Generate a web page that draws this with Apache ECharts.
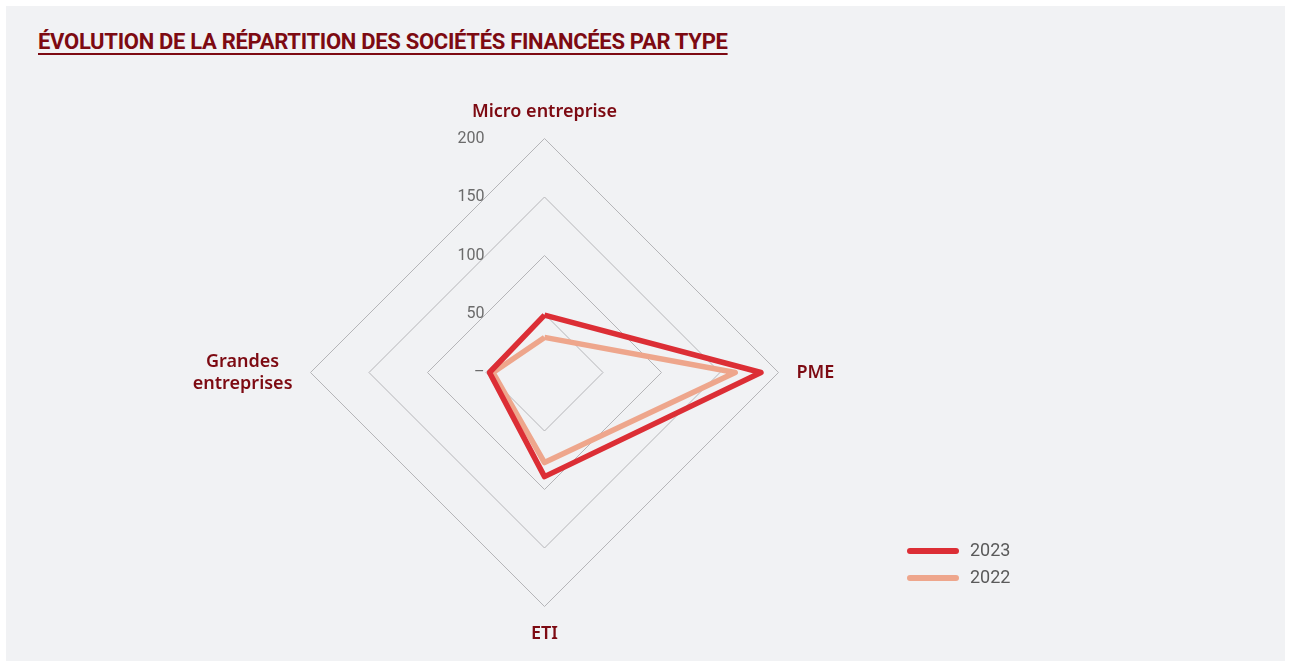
<!DOCTYPE html>
<html>
<head>
<meta charset="utf-8">
<script src="https://cdn.jsdelivr.net/npm/echarts@6/dist/echarts.min.js"></script>
<style>
  html, body { margin: 0; padding: 0; background: #fff; }
  .panel {
    position: absolute; left: 6px; top: 6px; width: 1279px; height: 655px;
    background: #f1f2f4;
  }
  .title {
    position: absolute; left: 38px; top: 29px;
    font-family: "Roboto", sans-serif; font-weight: 700; font-size: 22px;
    color: #7d0a12; text-decoration: underline; text-underline-offset: 4px;
    letter-spacing: -0.3px;
  }
  #chart { position: absolute; left: 0; top: 0; width: 1291px; height: 666px; }
</style>
</head>
<body>
<div class="panel"></div>
<div class="title">ÉVOLUTION DE LA RÉPARTITION DES SOCIÉTÉS FINANCÉES PAR TYPE</div>
<div id="chart"></div>
<script>
// indicators in drawing order (top, left, bottom, right)
const categories = ['Micro entreprise', 'Grandes entreprises', 'ETI', 'PME'];
const seriesNames = ['2023', '2022'];
const values2023 = [49, 47, 89, 185];
const values2022 = [30, 44, 77, 163];
const maxValue = 200;

const colorList = ['#dc2e35', '#eea68c'];
const nameColor = '#7d0a12';

let chart = echarts.init(document.getElementById('chart'));

let indicator = categories.map((name, i) => {
  let item = { name: name, max: maxValue, min: 0 };
  if (i === 0) {
    item.axisLabel = {
      show: true,
      color: '#6b6b6b',
      fontSize: 16,
      fontFamily: 'Roboto',
      margin: 60,
      formatter: function (v) { return v === 0 ? '–' : v; }
    };
  }
  return item;
});

let option = {
  legend: {
    orient: 'vertical',
    left: 902,
    top: 537,
    itemWidth: 52,
    itemHeight: 6,
    itemGap: 9,
    icon: 'path://M3,0 H49 A3,3 0 0 1 49,6 H3 A3,3 0 0 1 3,0 Z',
    textStyle: { color: '#5a5a5a', fontSize: 18, fontFamily: 'Roboto', padding: [0, 0, 0, 6] },
    data: seriesNames
  },
  radar: {
    center: [544.5, 372.5],
    radius: 234,
    splitNumber: 4,
    shape: 'polygon',
    startAngle: 90,
    indicator: indicator,
    axisName: {
      color: nameColor,
      fontSize: 18,
      fontWeight: 600,
      fontFamily: 'Noto Sans',
      formatter: function (name) {
        return name === 'Grandes entreprises'
          ? '{c|Grandes}\n{c|entreprises}'
          : name;
      },
      rich: {
        c: { align: 'center', color: nameColor, fontSize: 18, fontWeight: 600, fontFamily: 'Noto Sans', lineHeight: 22 }
      }
    },
    nameGap: 18,
    axisLine: { show: false },
    axisTick: { show: false },
    axisLabel: { show: false },
    splitArea: { show: false },
    splitLine: { lineStyle: { color: '#b5b5b8', width: 1 } }
  },
  series: [{
    type: 'radar',
    symbol: 'none',
    data: [
      {
        name: seriesNames[1],
        value: values2022,
        lineStyle: { color: colorList[1], width: 5.5 },
        itemStyle: { color: colorList[1] }
      },
      {
        name: seriesNames[0],
        value: values2023,
        lineStyle: { color: colorList[0], width: 5.5 },
        itemStyle: { color: colorList[0] }
      }
    ]
  }]
};
chart.setOption(option);
</script>
</body>
</html>
